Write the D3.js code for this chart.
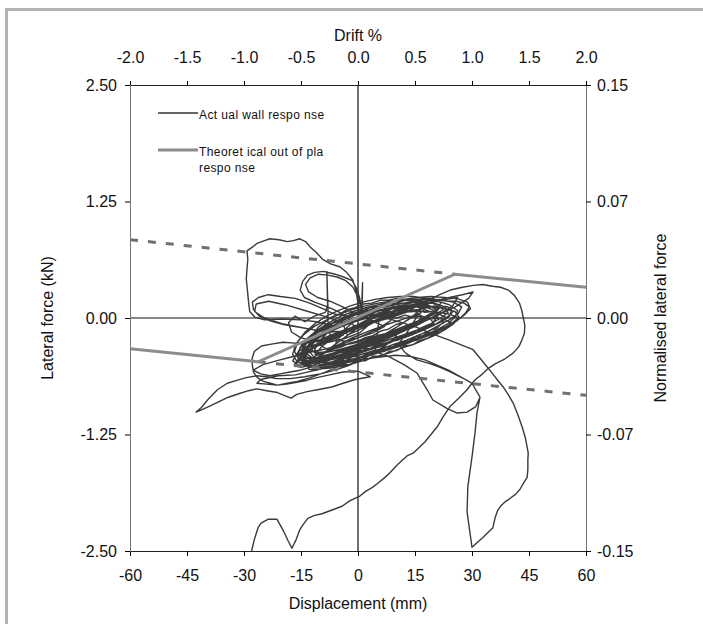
<!DOCTYPE html>
<html>
<head>
<meta charset="utf-8">
<script src="https://cdn.jsdelivr.net/npm/d3@7"></script>
<style>
  body { margin: 0; background: #fff; }
  svg { display: block; font-family: "Liberation Sans", Arial, sans-serif; }
</style>
</head>
<body>
<svg id="chart" width="703" height="624"></svg>
<script>
// Axis ticks and their labels
const displacementTicks = [-60, -45, -30, -15, 0, 15, 30, 45, 60];
const displacementTickLabels = ["-60", "-45", "-30", "-15", "0", "15", "30", "45", "60"];
const driftTicks = [-2.0, -1.5, -1.0, -0.5, 0.0, 0.5, 1.0, 1.5, 2.0];
const driftTickLabels = ["-2.0", "-1.5", "-1.0", "-0.5", "0.0", "0.5", "1.0", "1.5", "2.0"];
const forceTicks = [2.5, 1.25, 0, -1.25, -2.5];
const forceTickLabels = ["2.50", "1.25", "0.00", "-1.25", "-2.50"];
const normTicks = [0.15, 0.075, 0, -0.075, -0.15];
const normTickLabels = ["0.15", "0.07", "0.00", "-0.07", "-0.15"];

// Theoretical out-of-plane response [displacement mm, force kN]
const theoreticalBackbone = [[-60, -0.33], [-26.3, -0.47], [25.5, 0.47], [60, 0.33]];
const theoreticalUpperBranch = [[-60, 0.84], [25.5, 0.47]];
const theoreticalLowerBranch = [[-26.3, -0.47], [60, -0.83]];

// Measured wall response [displacement mm, force kN]
const wallResponse = [
  [0,0],[1.6,0.03],[3.4,0.05],[5.2,0.07],[6.3,0.03],[4.6,-0.04],[2.2,-0.09],[-0.4,-0.14],[-2.7,-0.18],[-4.0,-0.14],[-2.3,-0.08],[-0.6,-0.03],
  [1.9,0.01],[4.3,0.06],[7.0,0.10],[9.6,0.12],[11.2,0.08],[8.5,-0.03],[5.4,-0.11],[2.3,-0.17],[-0.9,-0.23],[-4.1,-0.28],[-6.2,-0.30],[-5.2,-0.22],[-3.1,-0.15],[-0.4,-0.08],
  [2.9,-0.01],[6.5,0.06],[10.4,0.12],[13.8,0.17],[16.7,0.19],[17.5,0.12],[14.1,0.01],[10.5,-0.09],[6.7,-0.18],[3.0,-0.24],[-0.7,-0.31],[-4.9,-0.36],[-9.1,-0.41],[-11.3,-0.39],[-9.4,-0.30],[-6.3,-0.21],[-2.6,-0.13],
  [1.1,-0.06],[5.4,0.02],[9.9,0.08],[14.1,0.14],[18.3,0.19],[21.9,0.17],[20.5,0.07],[16.8,-0.04],[12.1,-0.14],[7.3,-0.23],[2.1,-0.31],[-3.0,-0.38],[-7.7,-0.44],[-12.2,-0.49],[-14.8,-0.46],[-13.0,-0.36],[-9.5,-0.26],[-5.1,-0.17],[-0.8,-0.10],
  [-2.2,-0.02],[-4.8,0.06],[-8.0,0.12],[-11.4,0.17],[-14.1,0.22],[-15.2,0.30],[-14.6,0.39],[-13.3,0.46],[-11.4,0.49],[-9.1,0.50],[-6.0,0.47],[-3.8,0.44],[-1.5,0.40],[-0.4,0.32],[0.4,0.22],[0.9,0.12],
  [1.1,0.08],[1.2,0.38],[1.0,0.15],[0.6,0.05],
  [-1.0,0.05],[-4.0,0.12],[-7.4,0.18],[-10.6,0.22],[-13.0,0.28],[-13.8,0.36],[-12.6,0.43],[-10.4,0.47],[-7.9,0.46],[-5.5,0.44],[-3.2,0.40],[-1.3,0.33],[-0.2,0.24],[0.6,0.14],[1.5,0.05],
  [-2.5,0.02],[-6.0,0.04],[-9.3,0.10],[-12.7,0.16],[-16.5,0.21],[-20.4,0.23],[-23.6,0.25],[-26.2,0.22],[-27.8,0.17],[-27.5,0.09],[-26.0,0.02],[-23.1,-0.03],[-19.6,-0.07],[-15.4,-0.10],[-11.2,-0.13],[-7.3,-0.15],[-3.3,-0.14],
  [-4.0,-0.05],[-9.0,0.02],[-14.0,0.08],[-19.0,0.14],[-23.5,0.18],[-26.8,0.15],[-27.2,0.07],[-24.6,0.00],[-20.0,-0.06],[-15.0,-0.10],[-10.0,-0.14],
  [-6.7,-0.08],[-10.9,-0.04],[-15.2,-0.02],[-20.4,-0.01],[-24.6,-0.02],[-27.2,0.01],[-28.5,0.07],[-28.8,0.17],[-29.1,0.30],[-29.4,0.42],[-29.2,0.53],[-29.0,0.63],[-29.2,0.72],[-27.8,0.76],[-26.6,0.80],[-24.6,0.83],[-23.2,0.85],[-20.8,0.84],[-18.6,0.82],[-17.0,0.83],[-15.3,0.85],[-13.8,0.82],[-12.5,0.76],[-10.9,0.70],[-9.3,0.63],[-7.2,0.58],[-4.8,0.55],[-3.0,0.49],[-1.4,0.41],[-0.6,0.31],[-0.2,0.21],[0.1,0.11],[0.5,0.03],
  [3.6,-0.03],[7.0,-0.09],[3.9,-0.16],[0.2,-0.21],[-3.6,-0.25],[-6.5,-0.22],[-7.9,-0.14],[-7.9,0.10],[-8.2,0.50],[-8.0,0.14],[-8.6,0.06],[-11.5,0.02],[-14.0,-0.04],[-16.6,0.02],[-18.3,-0.05],[-17.5,-0.15],[-15.1,-0.21],[-11.8,-0.25],[-7.8,-0.26],[-3.5,-0.22],[0.4,-0.16],
  [4.1,-0.03],[8.8,0.05],[13.4,0.12],[18.6,0.17],[23.3,0.20],[26.2,0.22],[24.9,0.13],[21.1,0.03],[16.2,-0.06],[11.0,-0.15],[5.7,-0.24],[0.6,-0.32],[-4.5,-0.39],[-9.4,-0.45],[-13.6,-0.49],[-16.2,-0.47],[-14.4,-0.38],[-10.9,-0.30],[-6.5,-0.21],[-2.0,-0.14],[2.7,-0.07],
  [8.0,0.02],[13.3,0.10],[18.1,0.15],[22.8,0.21],[27.5,0.25],[30.3,0.28],[29.1,0.21],[25.6,0.12],[20.4,0.02],[15.2,-0.07],[9.6,-0.16],[3.9,-0.25],[-1.7,-0.33],[-6.7,-0.40],[-11.7,-0.46],[-15.4,-0.51],[-17.2,-0.46],[-15.7,-0.36],[-12.1,-0.27],[-7.5,-0.19],[-3.0,-0.12],[1.4,-0.06],
  [-10.5,-0.42],[-7.8,-0.40],[-5.1,-0.35],[-2.4,-0.33],[0.3,-0.29],[3.1,-0.26],[5.8,-0.20],[8.6,-0.17],[11.4,-0.11],[14.0,-0.08],[16.7,-0.02],[19.1,0.03],[20.6,0.09],[18.4,0.14],[15.2,0.15],[12.3,0.13],[9.1,0.12],[6.0,0.08],[3.2,0.06],[0.4,0.02],[-2.5,-0.03],[-5.3,-0.08],[-8.1,-0.16],[-10.2,-0.25],[-11.4,-0.34],
  [-9.0,-0.46],[-6.2,-0.44],[-3.3,-0.41],[-0.5,-0.37],[2.4,-0.34],[5.2,-0.29],[7.9,-0.26],[10.8,-0.21],[13.6,-0.17],[16.4,-0.11],[19.2,-0.06],[21.8,0.00],[23.7,0.06],[22.9,0.12],[20.1,0.16],[17.0,0.18],[13.8,0.17],[10.5,0.15],[7.3,0.12],[4.1,0.10],[1.0,0.06],[-2.0,0.01],[-5.1,-0.05],[-8.3,-0.12],[-11.2,-0.21],[-13.3,-0.31],[-13.9,-0.40],[-12.1,-0.46],
  [-9.2,-0.48],[-6.0,-0.47],[-2.9,-0.43],[0.2,-0.40],[3.3,-0.36],[6.4,-0.33],[9.5,-0.28],[12.6,-0.24],[15.6,-0.19],[18.5,-0.14],[21.3,-0.08],[24.0,-0.02],[26.4,0.05],[27.3,0.12],[25.1,0.17],[21.9,0.19],[18.6,0.21],[15.2,0.20],[11.8,0.19],[8.5,0.17],[5.2,0.14],[2.0,0.11],[-1.2,0.07],[-4.5,0.02],[-7.6,-0.05],[-10.7,-0.13],[-13.4,-0.22],[-15.3,-0.32],[-15.9,-0.42],[-14.0,-0.49],
  [-10.9,-0.52],[-7.5,-0.50],[-4.2,-0.48],[-0.9,-0.44],[2.4,-0.41],[5.6,-0.37],[8.9,-0.33],[12.0,-0.29],[15.0,-0.24],[17.9,-0.20],[20.8,-0.15],[23.4,-0.10],[25.7,-0.04],[27.9,0.03],[29.6,0.10],[28.8,0.17],[26.0,0.21],[22.7,0.22],[19.2,0.23],[15.7,0.22],[12.1,0.20],[8.7,0.18],[5.3,0.16],[1.9,0.13],[-1.5,0.09],[-4.9,0.04],[-8.2,-0.02],[-11.5,-0.09],[-14.3,-0.18],[-16.4,-0.28],[-17.2,-0.39],[-16.0,-0.47],
  [-13.1,-0.52],[-9.8,-0.53],[-6.3,-0.51],[-2.9,-0.47],[0.6,-0.43],[4.0,-0.39],[7.3,-0.34],[10.6,-0.30],[13.8,-0.25],[16.9,-0.21],[19.8,-0.16],[22.5,-0.11],[24.9,-0.05],[26.6,0.01],[25.5,0.07],[22.6,0.10],[19.4,0.12],[16.0,0.13],[12.7,0.12],[9.3,0.11],[6.0,0.09],[2.7,0.07],[-0.6,0.04],[-3.9,0.00],[-7.1,-0.06],[-10.2,-0.13],[-12.9,-0.22],[-14.6,-0.32],[-14.9,-0.40],
  [-11.8,-0.44],[-8.6,-0.42],[-5.3,-0.38],[-2.1,-0.35],[1.1,-0.30],[4.3,-0.26],[7.4,-0.21],[10.4,-0.17],[13.3,-0.11],[15.6,-0.05],[16.8,0.02],[15.0,0.07],[12.1,0.08],[9.0,0.07],[5.9,0.05],[2.8,0.03],[-0.3,0.00],[-3.5,-0.04],[-6.6,-0.10],[-9.5,-0.18],[-11.8,-0.27],[-12.7,-0.36],
  [-10.1,-0.50],[-6.9,-0.49],[-3.6,-0.46],[-0.4,-0.43],[2.8,-0.39],[6.0,-0.35],[9.2,-0.31],[12.3,-0.26],[15.4,-0.22],[18.3,-0.17],[21.1,-0.12],[23.7,-0.06],[25.6,0.01],[26.2,0.08],[24.1,0.14],[21.1,0.18],[17.9,0.21],[14.6,0.23],[11.2,0.23],[7.8,0.22],[4.5,0.20],[1.2,0.17],[-2.0,0.13],[-5.2,0.08],[-8.3,0.02],[-11.3,-0.06],[-13.9,-0.15],[-15.8,-0.25],[-16.7,-0.36],[-15.5,-0.45],
  [-12.4,-0.49],[-9.0,-0.47],[-5.7,-0.43],[-2.4,-0.40],[0.9,-0.36],[4.2,-0.32],[7.4,-0.28],[10.5,-0.23],[13.6,-0.19],[16.6,-0.14],[19.4,-0.09],[22.0,-0.04],[24.1,0.02],[24.6,0.08],[22.2,0.11],[19.1,0.12],[15.9,0.12],[12.6,0.11],[9.4,0.10],[6.1,0.08],[2.9,0.05],[-0.3,0.01],[-3.5,-0.04],[-6.7,-0.10],[-9.7,-0.17],[-12.4,-0.26],[-14.2,-0.36],[-14.4,-0.44],
  [-11.3,-0.55],[-8.0,-0.54],[-4.6,-0.52],[-1.3,-0.49],[2.0,-0.45],[5.3,-0.41],[8.5,-0.37],[11.7,-0.32],[14.8,-0.28],[17.7,-0.23],[20.5,-0.18],[23.1,-0.12],[25.2,-0.06],[26.4,0.00],[24.3,0.04],[21.2,0.06],[18.0,0.07],[14.8,0.07],[11.5,0.06],[8.2,0.04],[4.9,0.02],[1.7,-0.01],[-1.6,-0.05],[-4.8,-0.10],[-8.0,-0.16],[-11.0,-0.23],[-13.6,-0.32],[-15.1,-0.42],[-14.3,-0.51],
  [-13.0,-0.47],[-11.2,-0.50],[-9.1,-0.47],[-7.3,-0.49],[-5.2,-0.45],[-3.4,-0.46],[-1.1,-0.41],[0.8,-0.42],[3.0,-0.37],[5.1,-0.36],[7.2,-0.31],[9.0,-0.31],[11.3,-0.26],[13.2,-0.25],[15.3,-0.20],[17.0,-0.19],[19.1,-0.13],[20.7,-0.11],[22.3,-0.05],[23.0,0.01],[21.4,0.04],[19.5,0.07],[17.6,0.06],[15.4,0.09],[13.3,0.08],[11.0,0.10],[8.9,0.07],[6.7,0.07],[4.6,0.03],[2.4,0.03],[0.3,-0.02],[-1.8,-0.03],[-3.9,-0.08],[-5.9,-0.10],[-7.9,-0.16],[-9.8,-0.19],[-11.5,-0.26],[-12.8,-0.31],[-13.6,-0.38],
  [-12.0,-0.43],[-10.0,-0.45],[-8.1,-0.42],[-6.0,-0.43],[-3.9,-0.39],[-1.9,-0.40],[0.2,-0.35],[2.2,-0.35],[4.4,-0.30],[6.3,-0.30],[8.5,-0.25],[10.4,-0.24],[12.6,-0.19],[14.4,-0.18],[16.5,-0.12],[18.2,-0.10],[19.9,-0.04],[21.0,0.02],[20.2,0.08],[18.3,0.11],[16.2,0.11],[14.0,0.14],[11.7,0.13],[9.5,0.15],[7.3,0.12],[5.0,0.12],[2.8,0.08],[0.6,0.07],[-1.6,0.03],[-3.7,0.01],[-5.8,-0.04],[-7.8,-0.07],[-9.7,-0.13],[-11.4,-0.18],[-12.7,-0.25],[-13.3,-0.33],
  [-14.5,-0.45],[-12.6,-0.46],[-10.6,-0.44],[-8.5,-0.45],[-6.4,-0.41],[-4.3,-0.42],[-2.2,-0.38],[-0.1,-0.38],[2.0,-0.33],[4.1,-0.33],[6.2,-0.28],[8.3,-0.27],[10.4,-0.22],[12.4,-0.21],[14.5,-0.16],[16.5,-0.14],[18.4,-0.09],[20.3,-0.07],[22.2,-0.02],[23.8,0.02],[25.0,0.07],[23.6,0.12],[21.5,0.13],[19.4,0.16],[17.2,0.15],[15.0,0.17],[12.8,0.15],[10.6,0.16],[8.4,0.13],[6.2,0.13],[4.0,0.09],[1.8,0.08],[-0.4,0.04],[-2.6,0.02],[-4.7,-0.03],[-6.8,-0.06],[-8.8,-0.12],[-10.7,-0.16],[-12.5,-0.23],[-13.9,-0.29],[-14.8,-0.37],
  [-12.9,-0.55],[-10.8,-0.56],[-8.7,-0.53],[-6.5,-0.54],[-4.4,-0.50],[-2.3,-0.50],[-0.2,-0.46],[1.9,-0.46],[4.0,-0.41],[6.1,-0.41],[8.2,-0.36],[10.2,-0.35],[12.3,-0.30],[14.3,-0.29],[16.3,-0.24],[18.2,-0.22],[20.1,-0.17],[21.9,-0.15],[23.5,-0.10],[24.4,-0.05],[23.0,-0.02],[21.0,0.00],[18.9,-0.01],[16.8,0.02],[14.6,0.01],[12.4,0.03],[10.2,0.00],[8.0,0.01],[5.8,-0.03],[3.6,-0.03],[1.4,-0.07],[-0.8,-0.08],[-2.9,-0.13],[-5.0,-0.15],[-7.1,-0.20],[-9.1,-0.23],[-11.0,-0.29],[-12.6,-0.34],[-13.8,-0.41],[-14.2,-0.49],
  [-10.2,-0.38],[-8.3,-0.36],[-6.3,-0.33],[-4.3,-0.31],[-2.2,-0.27],[-0.2,-0.25],[1.9,-0.21],[3.9,-0.19],[6.0,-0.14],[8.0,-0.12],[10.0,-0.07],[12.0,-0.05],[13.9,0.00],[15.7,0.03],[17.2,0.08],[18.0,0.13],[16.4,0.17],[14.4,0.19],[12.3,0.19],[10.2,0.21],[8.0,0.19],[5.8,0.19],[3.6,0.16],[1.4,0.15],[-0.8,0.11],[-2.9,0.09],[-5.0,0.04],[-7.0,0.01],[-8.9,-0.05],[-10.5,-0.10],[-11.8,-0.17],[-12.4,-0.25],[-11.9,-0.33],
  [-16.8,-0.50],[-15.0,-0.53],[-12.9,-0.51],[-10.8,-0.53],[-8.6,-0.49],[-6.4,-0.50],[-4.2,-0.46],[-2.0,-0.46],[0.2,-0.42],[2.4,-0.41],[4.6,-0.37],[6.8,-0.36],[9.0,-0.31],[11.1,-0.30],[13.3,-0.25],[15.4,-0.24],[17.5,-0.19],[19.5,-0.17],[21.5,-0.12],[23.4,-0.09],[25.2,-0.04],[26.9,0.00],[28.4,0.06],[29.3,0.12],[27.9,0.16],[25.9,0.18],[23.7,0.18],[21.5,0.20],[19.2,0.19],[16.9,0.20],[14.6,0.18],[12.3,0.19],[10.0,0.16],[7.7,0.16],[5.4,0.12],[3.1,0.11],[0.8,0.07],[-1.5,0.05],[-3.7,0.00],[-5.9,-0.03],[-8.0,-0.09],[-10.1,-0.13],[-12.0,-0.20],[-13.8,-0.25],[-15.3,-0.33],[-16.3,-0.40],
  [-3.8,-0.18],[-8.1,-0.22],[-12.5,-0.26],[-16.5,-0.27],[-19.8,-0.26],[-22.8,-0.28],[-25.4,-0.30],[-27.3,-0.36],[-27.9,-0.44],[-27.8,-0.51],[-27.5,-0.58],[-26.5,-0.64],[-24.9,-0.68],[-23.1,-0.70],[-21.2,-0.72],[-18.6,-0.70],[-16.0,-0.68],[-12.5,-0.64],[-8.6,-0.58],[-4.6,-0.51],[-1.2,-0.45],[2.5,-0.40],[5.9,-0.33],[8.5,-0.26],[10.1,-0.19],
  [6.8,-0.17],[2.3,-0.22],[-2.4,-0.28],[-7.0,-0.32],[-11.9,-0.36],[-16.8,-0.41],[-21.5,-0.46],[-25.0,-0.50],[-27.6,-0.56],[-25.6,-0.60],[-23.2,-0.62],[-20.5,-0.60],[-17.9,-0.58],[-15.2,-0.56],[-12.6,-0.53],[-9.0,-0.50],[-5.5,-0.45],[-1.2,-0.40],[3.2,-0.34],[7.4,-0.29],
  [4.0,-0.38],[0.9,-0.45],[-2.5,-0.51],[-6.0,-0.56],[-9.9,-0.60],[-14.1,-0.63],[-17.8,-0.65],[-21.5,-0.65],[-24.1,-0.63],[-26.6,-0.62],[-29.4,-0.64],[-31.9,-0.67],[-34.4,-0.70],[-37.0,-0.77],[-39.6,-0.88],[-41.2,-0.96],[-42.6,-1.01],[-41.5,-0.99],[-39.3,-0.95],[-36.7,-0.90],[-34.1,-0.85],[-31.2,-0.81],[-28.8,-0.78],[-26.6,-0.76],[-24.0,-0.78],[-21.2,-0.80],[-18.8,-0.84],[-17.6,-0.86],[-16.1,-0.82],[-13.4,-0.79],[-10.7,-0.77],[-6.9,-0.74],[-3.9,-0.70],[-0.7,-0.66],[3.2,-0.63],
  [0.0,-0.57],[-3.9,-0.58],[-7.5,-0.61],[-10.8,-0.64],[-13.6,-0.67],[-16.1,-0.69],[-18.8,-0.71],[-21.3,-0.72],[-24.0,-0.71],[-26.6,-0.70],[-25.6,-0.66],[-21.0,-0.62],[-16.5,-0.61],[-12.2,-0.57],[-7.7,-0.53],[-3.1,-0.48],[1.5,-0.44],[5.8,-0.42],[9.8,-0.40],[13.6,-0.41],
  [17.6,-0.45],[20.5,-0.50],[23.8,-0.56],[26.9,-0.63],[30.0,-0.70],[32.1,-0.85],[31.0,-0.95],[28.7,-1.01],[26.1,-1.02],[23.4,-0.97],[19.7,-0.88],[18.2,-0.77],[15.5,-0.59],[12.1,-0.50],[8.4,-0.42],[4.5,-0.36],
  [5.6,0.01],[10.9,0.05],[15.9,0.09],[20.2,0.13],[22.7,0.10],[19.3,0.00],[14.5,-0.10],[8.9,-0.19],[3.3,-0.27],[-2.1,-0.31],[-7.2,-0.36],[-10.9,-0.39],[-12.5,-0.33],[-9.7,-0.24],[-5.4,-0.17],[-1.0,-0.11],
  [3.8,-0.05],[8.3,0.00],[12.7,0.06],[16.9,0.10],[19.6,0.06],[15.8,-0.03],[11.4,-0.10],[6.5,-0.18],[1.3,-0.25],[-3.7,-0.29],[-8.4,-0.33],[-10.3,-0.28],[-7.1,-0.20],[-3.3,-0.13],[0.7,-0.08],
  [5.3,-0.02],[9.7,0.03],[13.8,0.09],[18.1,0.18],[21.5,0.25],[24.3,0.30],[27.5,0.33],[30.4,0.35],[32.8,0.36],[35.4,0.34],[37.5,0.33],[39.6,0.30],[41.2,0.24],[42.5,0.16],[43.1,0.08],[43.5,0.00],[43.9,-0.08],[43.8,-0.16],[43.1,-0.24],[42.3,-0.31],[40.7,-0.38],[38.6,-0.44],[36.2,-0.49],[34.3,-0.54],[32.5,-0.61],[30.9,-0.66],[30.0,-0.70],
  [32.1,-0.85],[31.3,-1.02],[30.8,-1.23],[30.0,-1.49],[28.9,-1.81],[28.7,-2.08],[30.0,-2.46],[32.7,-2.36],[35.5,-2.25],[36.1,-2.14],[36.7,-2.07],[37.5,-2.02],[38.8,-1.97],[39.9,-1.94],[41.5,-1.89],[42.6,-1.84],[43.6,-1.77],[44.5,-1.71],[44.7,-1.63],[44.7,-1.52],[44.8,-1.45],[44.5,-1.38],[44.0,-1.28],[43.2,-1.17],[42.1,-1.04],[40.8,-0.91],[39.5,-0.82],[38.2,-0.74],[36.6,-0.66],[34.7,-0.56],[32.5,-0.45],[30.3,-0.34],[27.3,-0.29],[24.2,-0.24],[21.5,-0.20],[18.9,-0.16],[15.5,-0.10],[11.6,-0.05],[7.4,0.00],[3.1,-0.06],
  [-1.5,-0.12],[-6.0,-0.20],[-10.3,-0.27],[-13.9,-0.33],[-15.8,-0.40],[-14.0,-0.44],[-10.4,-0.42],[-5.9,-0.37],[-1.3,-0.31],[3.5,-0.24],[8.1,-0.17],[12.3,-0.10],[16.5,-0.03],[19.9,0.04],[21.3,0.10],[18.0,0.14],[13.7,0.11],[9.1,0.07],[4.6,0.03],[0.2,-0.02],[-4.4,-0.09],[-8.8,-0.17],[-12.9,-0.25],[-15.0,-0.29],[-12.6,-0.36],[-8.5,-0.37],[-4.0,-0.33],[0.8,-0.27],[5.7,-0.20],[10.4,-0.13],[14.8,-0.06],[18.7,0.01],[20.0,-0.06],[16.2,-0.12],[11.3,-0.19],[6.2,-0.26],[1.0,-0.33],[-4.0,-0.40],[-8.1,-0.44],[-10.0,-0.41],[-6.3,-0.31],[-1.9,-0.22],[2.8,-0.14],[7.6,-0.07],[12.1,-0.01],[15.9,0.04],
  [13.0,-0.15],[10.6,-0.28],[12.6,-0.38],[15.5,-0.45],[18.9,-0.49],[21.6,-0.53],[24.4,-0.58],[26.8,-0.63],[28.7,-0.67],[30.0,-0.70],[28.7,-0.77],[26.5,-0.86],[24.2,-0.95],[22.4,-1.06],[20.8,-1.17],[17.6,-1.33],[14.5,-1.45],[12.9,-1.48],[10.5,-1.57],[8.4,-1.66],[7.1,-1.71],[5.3,-1.77],[3.7,-1.82],[2.0,-1.86],[0.5,-1.91],[-2.1,-1.96],[-4.2,-2.02],[-6.8,-2.06],[-9.5,-2.10],[-11.6,-2.12],[-13.2,-2.15],[-14.5,-2.22],[-15.3,-2.27],[-16.3,-2.38],[-17.4,-2.47],[-18.4,-2.39],[-19.8,-2.27],[-21.3,-2.16],[-23.7,-2.16],[-25.5,-2.20],[-26.3,-2.25],[-27.3,-2.38],[-28.0,-2.50]
];

const svg = d3.select("#chart");
const plot = { left: 130, right: 586, top: 85, bottom: 551 };

const x = d3.scaleLinear().domain([-60, 60]).range([plot.left, plot.right]);
const xDrift = d3.scaleLinear().domain([-2, 2]).range([plot.left, plot.right]);
const y = d3.scaleLinear().domain([-2.5, 2.5]).range([plot.bottom, plot.top]);
const yNorm = d3.scaleLinear().domain([-0.15, 0.15]).range([plot.bottom, plot.top]);

// outer frame
svg.append("rect")
  .attr("x", 6.5).attr("y", 9.5).attr("width", 720).attr("height", 640)
  .attr("fill", "none").attr("stroke", "#b4b4b4").attr("stroke-width", 3);

svg.append("clipPath").attr("id", "plotClip")
  .append("rect")
  .attr("x", plot.left).attr("y", plot.top)
  .attr("width", plot.right - plot.left).attr("height", plot.bottom - plot.top);

// zero lines
svg.append("line")
  .attr("x1", x(-60)).attr("x2", x(60)).attr("y1", y(0)).attr("y2", y(0))
  .attr("stroke", "#111").attr("stroke-width", 1.2);
svg.append("line")
  .attr("x1", x(0)).attr("x2", x(0)).attr("y1", y(2.5)).attr("y2", y(-2.5))
  .attr("stroke", "#111").attr("stroke-width", 1.2);

const line = d3.line().x(d => x(d[0])).y(d => y(d[1]));

// measured hysteresis
svg.append("path")
  .datum(wallResponse)
  .attr("clip-path", "url(#plotClip)")
  .attr("d", line)
  .attr("fill", "none")
  .attr("stroke", "#3a3a3a")
  .attr("stroke-width", 1.4)
  .attr("stroke-linejoin", "round");

// theoretical response
svg.append("path").datum(theoreticalUpperBranch).attr("d", line)
  .attr("fill", "none").attr("stroke", "#707070").attr("stroke-width", 3)
  .attr("stroke-dasharray", "8,10");
svg.append("path").datum(theoreticalLowerBranch).attr("d", line)
  .attr("fill", "none").attr("stroke", "#707070").attr("stroke-width", 3)
  .attr("stroke-dasharray", "8,10");
svg.append("path").datum(theoreticalBackbone).attr("d", line)
  .attr("fill", "none").attr("stroke", "#8c8c8c").attr("stroke-width", 3);

// axes
const tickFont = g => g.selectAll("text")
  .attr("font-size", 16).attr("fill", "#111")
  .attr("font-family", "'Liberation Sans', Arial, sans-serif");

const bottomAxis = svg.append("g")
  .attr("transform", `translate(0,${plot.bottom})`)
  .call(d3.axisBottom(x).tickValues(displacementTicks)
    .tickFormat((d, i) => displacementTickLabels[i]).tickSize(5).tickPadding(14))
  .call(tickFont);
bottomAxis.select(".domain").attr("stroke", "#222");

const topAxis = svg.append("g")
  .attr("transform", `translate(0,${plot.top})`)
  .call(d3.axisTop(xDrift).tickValues(driftTicks)
    .tickFormat((d, i) => driftTickLabels[i]).tickSizeInner(4).tickSizeOuter(0).tickPadding(18))
  .call(tickFont);
topAxis.select(".domain").attr("stroke", "#222");

const leftAxis = svg.append("g")
  .attr("transform", `translate(${plot.left},0)`)
  .call(d3.axisLeft(y).tickValues(forceTicks)
    .tickFormat((d, i) => forceTickLabels[i]).tickSize(5).tickPadding(8))
  .call(tickFont);
leftAxis.select(".domain").attr("stroke", "#777");

const rightAxis = svg.append("g")
  .attr("transform", `translate(${plot.right},0)`)
  .call(d3.axisRight(yNorm).tickValues(normTicks)
    .tickFormat((d, i) => normTickLabels[i]).tickSize(5).tickPadding(6))
  .call(tickFont);
rightAxis.select(".domain").attr("stroke", "#777");

// axis titles
svg.append("text").attr("x", (plot.left + plot.right) / 2).attr("y", 41)
  .attr("text-anchor", "middle").attr("font-size", 16).attr("fill", "#111").text("Drift %");
svg.append("text").attr("x", (plot.left + plot.right) / 2).attr("y", 609)
  .attr("text-anchor", "middle").attr("font-size", 16).attr("fill", "#111").text("Displacement (mm)");
svg.append("text")
  .attr("transform", `translate(53,${(plot.top + plot.bottom) / 2}) rotate(-90)`)
  .attr("text-anchor", "middle").attr("font-size", 16).attr("fill", "#111").text("Lateral force (kN)");
svg.append("text")
  .attr("transform", `translate(666,${(plot.top + plot.bottom) / 2}) rotate(-90)`)
  .attr("text-anchor", "middle").attr("font-size", 16).attr("fill", "#111").text("Normalised lateral force");

// legend
const legend = svg.append("g").attr("font-size", 12).attr("fill", "#111").attr("letter-spacing", "0.4px");
legend.append("line").attr("x1", 158).attr("x2", 198).attr("y1", 113).attr("y2", 113)
  .attr("stroke", "#333").attr("stroke-width", 1.3);
legend.append("text").attr("x", 199).attr("y", 119).text("Act ual wall respo nse");
legend.append("line").attr("x1", 158).attr("x2", 198).attr("y1", 150).attr("y2", 150)
  .attr("stroke", "#8c8c8c").attr("stroke-width", 3);
legend.append("text").attr("x", 199).attr("y", 156).text("Theoret ical out of pla");
legend.append("text").attr("x", 199).attr("y", 172).text("respo nse");
</script>
</body>
</html>
